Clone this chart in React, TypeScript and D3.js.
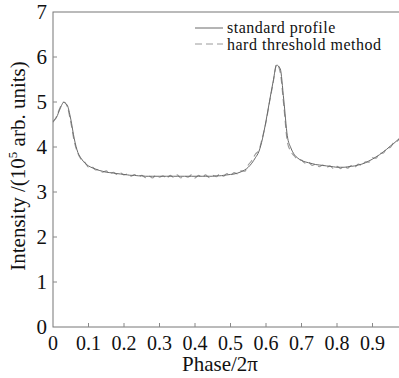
import * as d3 from "d3";

// sampled every 0.01 of phase, starting at 0
const standardProfile = [
  4.57, 4.66, 4.85, 4.99, 4.93, 4.62, 4.18, 3.88, 3.74, 3.64,
  3.58, 3.54, 3.51, 3.48, 3.46, 3.44, 3.43, 3.42, 3.41, 3.4,
  3.39, 3.38, 3.37, 3.37, 3.36, 3.36, 3.35, 3.35, 3.35, 3.35,
  3.35, 3.35, 3.35, 3.35, 3.35, 3.35, 3.35, 3.35, 3.35, 3.35,
  3.35, 3.35, 3.35, 3.35, 3.35, 3.35, 3.36, 3.36, 3.37, 3.38,
  3.39, 3.4, 3.42, 3.45, 3.49, 3.55, 3.64, 3.76, 3.9, 4.18,
  4.58, 5.02, 5.45, 5.82, 5.74, 5.05, 4.25, 3.98, 3.83, 3.75,
  3.7, 3.67, 3.65, 3.63, 3.61, 3.6, 3.59, 3.58, 3.57, 3.56,
  3.55, 3.55, 3.55, 3.56, 3.57, 3.58, 3.6, 3.62, 3.65, 3.69,
  3.73, 3.78, 3.83, 3.89, 3.95, 4.02, 4.08, 4.15, 4.22,
];

const hardThreshold = [
  4.55, 4.68, 4.88, 5.0, 4.9, 4.55, 4.12, 3.86, 3.72, 3.66,
  3.55, 3.56, 3.49, 3.5, 3.44, 3.47, 3.41, 3.44, 3.39, 3.43,
  3.38, 3.4, 3.35, 3.39, 3.33, 3.37, 3.32, 3.36, 3.31, 3.37,
  3.33, 3.36, 3.3, 3.37, 3.32, 3.38, 3.31, 3.36, 3.33, 3.38,
  3.31, 3.37, 3.33, 3.38, 3.32, 3.37, 3.34, 3.4, 3.35, 3.41,
  3.37, 3.43, 3.4, 3.47, 3.46, 3.6, 3.7, 3.84, 3.93, 4.22,
  4.55, 5.0, 5.42, 5.84, 5.66, 4.92, 4.12, 3.9, 3.8, 3.72,
  3.71, 3.64, 3.66, 3.59, 3.62, 3.56, 3.6, 3.54, 3.58, 3.52,
  3.57, 3.52, 3.57, 3.53, 3.59, 3.55, 3.62, 3.59, 3.67, 3.66,
  3.76, 3.75, 3.86, 3.86, 3.97, 3.99, 4.1, 4.13, 4.24,
];

const xTicks = [0, 0.1, 0.2, 0.3, 0.4, 0.5, 0.6, 0.7, 0.8, 0.9];
const yTicks = [0, 1, 2, 3, 4, 5, 6, 7];
const legendLabels = ["standard profile", "hard threshold method"];

const W = 399;
const H = 378;
const left = 53;
const right = 408;
const top = 12;
const bottom = 327;
const serif = '"Liberation Serif", "Times New Roman", Times, "DejaVu Serif", serif';

export default function App() {
  const x = d3.scaleLinear().domain([0, 1]).range([left, right]);
  const y = d3.scaleLinear().domain([0, 7]).range([bottom, top]);

  const line = d3
    .line<number>()
    .x((_, i) => x(i / 100))
    .y(d => y(d))
    .curve(d3.curveMonotoneX);

  const txt = { fontFamily: serif, fill: "#111" };

  return (
    <svg
      width={W}
      height={H}
      style={{ position: "absolute", left: 0, top: 0, background: "#fff", fontFamily: serif }}
    >
      <path d={line(hardThreshold) ?? ""} fill="none" stroke="#9a9a9a" strokeWidth={1.1} strokeDasharray="7,4" />
      <path d={line(standardProfile) ?? ""} fill="none" stroke="#6a6a6a" strokeWidth={1} />

      {/* frame */}
      <rect x={left} y={top} width={right - left} height={bottom - top} fill="none" stroke="#777" strokeWidth={1} />

      {xTicks.map(t => (
        <g key={"x" + t}>
          {t > 0 && <line x1={x(t)} x2={x(t)} y1={bottom} y2={bottom - 4} stroke="#888" />}
          <text x={x(t)} y={350} textAnchor="middle" style={{ ...txt, fontSize: 20 }}>
            {t === 0 ? "0" : t.toFixed(1)}
          </text>
        </g>
      ))}
      {yTicks.map(t => (
        <g key={"y" + t}>
          {t > 0 && t < 7 && <line x1={left} x2={left + 4} y1={y(t)} y2={y(t)} stroke="#888" />}
          <text x={47} y={y(t)} dy="0.34em" textAnchor="end" style={{ ...txt, fontSize: 21 }}>
            {t}
          </text>
        </g>
      ))}

      <text x={220} y={371} textAnchor="middle" style={{ ...txt, fontSize: 21 }}>
        Phase/2π
      </text>
      <text transform="translate(25,166) rotate(-90)" textAnchor="middle" style={{ ...txt, fontSize: 21 }}>
        Intensity /(10<tspan dy={-8} style={{ fontSize: 13 }}>5</tspan>
        <tspan dy={8}> arb. units)</tspan>
      </text>

      {/* legend */}
      <line x1={195} x2={223} y1={28} y2={28} stroke="#6a6a6a" />
      <text x={227} y={33} style={{ ...txt, fontSize: 16, letterSpacing: 0.5 }}>
        {legendLabels[0]}
      </text>
      <line x1={195} x2={223} y1={44} y2={44} stroke="#9a9a9a" strokeDasharray="7,4" />
      <text x={227} y={50} style={{ ...txt, fontSize: 16, letterSpacing: 0.5 }}>
        {legendLabels[1]}
      </text>
    </svg>
  );
}
